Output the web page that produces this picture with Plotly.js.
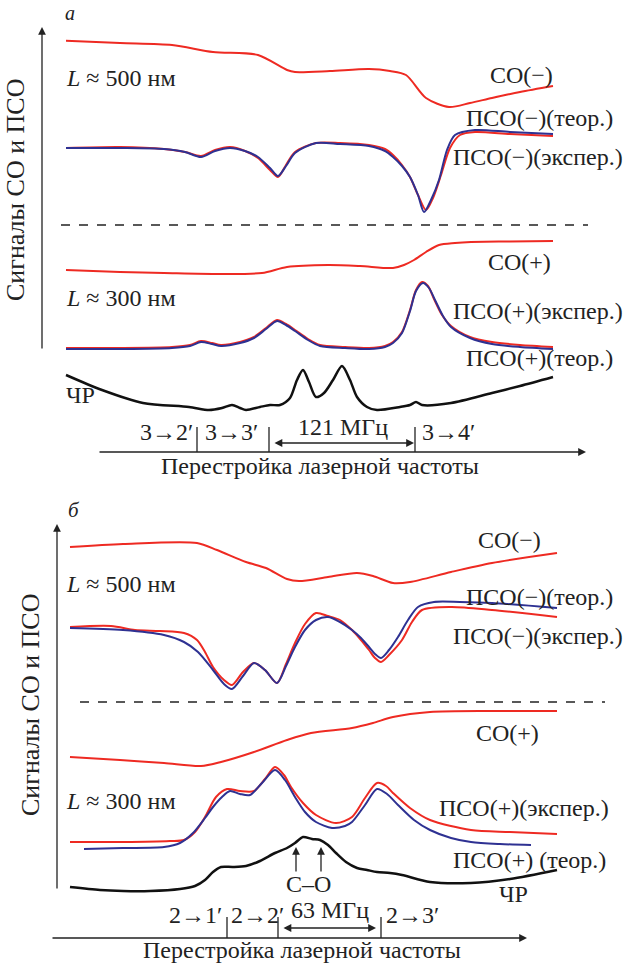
<!DOCTYPE html>
<html><head><meta charset="utf-8">
<script src="https://cdn.plot.ly/plotly-3.0.1.min.js"></script>
<style>body{margin:0;background:#fff}#p{width:640px;height:965px}</style>
</head><body><div id="p"></div>
<script>
// Panel a (x = laser detuning, y = signal, arbitrary units, downward-positive)
const a_co_minus_x = [66,120,172,213,258,287,295,330,369,390,406,426,449,470,492,520,553];
const a_co_minus_y = [40.7,43,45,52,55,70,72,71,69,71,75,98,107,103,98,92,86];
const a_pso_minus_teor_x = [66,120,164,185,201,215,230,245,258,270,278,286,295,316,340,369,385,393,402,410,418,424,431,439,447,455,475,510,553];
const a_pso_minus_teor_y = [148,148,149,152,157,151,148,151,157,168,176,166,153,143,144,146,151,157,166,177,195,212,200,180,150,135,130,132,134];
const a_pso_minus_exp_x = [66,120,164,185,201,215,230,245,258,270,278,286,295,316,340,369,385,393,402,410,418,426,433,441,450,460,475,510,553];
const a_pso_minus_exp_y = [148,147,149,152,156,150,147,151,158,170,177,165,152,143,143,145,149,155,165,177,195,210,198,175,148,135,132,134,136];
const a_co_plus_x = [66,120,164,220,262,287,328,360,393,404,414,426,439,455,471,510,553];
const a_co_plus_y = [270,272,273,274,273,267,265,266,268,265,260,252,245,243,242,241.5,241];
const a_pso_plus_exp_x = [66,120,172,190,201,212,221,240,254,266,277,286,295,308,320,345,369,385,393,402,410,416,422,428,434,442,451,470,492,520,553];
const a_pso_plus_exp_y = [348,348,347,345,341,343,345,342,337,328,320,324,330,339,345,347,348,346,342,332,310,290,282,286,299,315,326,337,342,345,347];
const a_pso_plus_teor_x = [66,120,172,190,201,212,221,240,254,266,277,286,295,308,320,345,369,385,393,402,410,416,423,429,435,443,451,470,492,520,553];
const a_pso_plus_teor_y = [349,349,348,346,342,344,346,343,338,329,321,325,331,340,346,348,349,347,343,333,311,291,283,288,300,316,327,338,344,347,349];
const a_chr_x = [66,102,143,189,209,222,232,240,246,260,270,280,290,297,303,309,316,324,333,342,350,357,367,377,400,410,416,422,451,492,520,553];
const a_chr_y = [375,390,403,407,410,408,405,408,410,407,405,405,398,380,370,382,397,393,380,366,380,397,407,410,407,405,402,405,403,393,386,377];
// Panel б
const b_co_minus_x = [70,123,197,217,246,266,287,299,328,357,373,393,410,451,492,557];
const b_co_minus_y = [547,544,543,550,562,568,579,581,577,573,576,583,582,572,563,553];
const b_pso_minus_teor_x = [70,123,164,184,198,213,224,232,243,254,265,277,286,295,305,316,328,340,352,361,369,375,381,389,398,408,418,434,460,492,557];
const b_pso_minus_teor_y = [628,630,635,642,652,670,684,689,676,663,670,683,666,647,630,620,617,622,630,638,647,654,658,650,637,620,607,602,602,603,608];
const b_pso_minus_exp_x = [70,111,135,160,184,197,205,213,224,232,243,254,265,277,286,295,305,316,328,340,352,361,369,375,381,389,402,412,422,451,492,557];
const b_pso_minus_exp_y = [627,626,630,631,633,640,652,667,680,685,672,663,670,683,664,643,624,613,616,620,630,640,650,658,662,655,640,622,610,607,610,617];
const b_co_plus_x = [70,120,164,201,221,254,287,311,352,373,393,430,492,557];
const b_co_plus_y = [757,760,763,766,762,752,740,733,728,723,717,712,711,711];
const b_pso_plus_exp_x = [70,123,170,184,195,205,216,227,240,254,265,275,284,291,303,316,336,352,365,377,386,393,410,430,471,510,557];
const b_pso_plus_exp_y = [842,842,841,840,832,817,797,789,791,791,779,767,775,787,803,815,823,817,798,783,786,793,808,820,830,832,834];
const b_pso_plus_teor_x = [84,123,164,180,193,205,213,222,230,240,250,262,275,285,295,305,316,332,345,352,365,377,387,398,414,430,451,471,500,531];
const b_pso_plus_teor_y = [849,848,847,843,833,818,807,797,791,794,795,783,770,780,797,812,822,828,826,822,805,789,794,805,820,830,838,842,844,845];
const b_chr_x = [70,100,123,150,180,195,205,213,221,233,246,260,275,287,295,303,312,320,328,336,346,357,367,377,390,402,430,471,510,557];
const b_chr_y = [887,890,891,891,889,886,880,872,867,867,866,861,853,848,843,837,839,840,845,853,862,868,870,872,873,875,882,883,879,870];

const RED = '#ee2a22', BLUE = '#2e3192', BLACK = '#111111';
function tr(x, y, c, w) { return {x: x, y: y, mode: 'lines', line: {color: c, width: w, shape: 'spline', smoothing: 0.8}, hoverinfo: 'skip', showlegend: false}; }
const data = [
  tr(a_co_minus_x, a_co_minus_y, RED, 2),
  tr(a_pso_minus_exp_x, a_pso_minus_exp_y, RED, 2),
  tr(a_pso_minus_teor_x, a_pso_minus_teor_y, BLUE, 2),
  tr(a_co_plus_x, a_co_plus_y, RED, 2),
  tr(a_pso_plus_exp_x, a_pso_plus_exp_y, RED, 2),
  tr(a_pso_plus_teor_x, a_pso_plus_teor_y, BLUE, 2),
  tr(a_chr_x, a_chr_y, BLACK, 2.5),
  tr(b_co_minus_x, b_co_minus_y, RED, 2),
  tr(b_pso_minus_exp_x, b_pso_minus_exp_y, RED, 2),
  tr(b_pso_minus_teor_x, b_pso_minus_teor_y, BLUE, 2),
  tr(b_co_plus_x, b_co_plus_y, RED, 2),
  tr(b_pso_plus_exp_x, b_pso_plus_exp_y, RED, 2),
  tr(b_pso_plus_teor_x, b_pso_plus_teor_y, BLUE, 2),
  tr(b_chr_x, b_chr_y, BLACK, 2.5)
];
const F = 'Liberation Serif, DejaVu Serif, serif';
const FS = 24;
function txt(x, y, s, opt) { return Object.assign({x: x, y: y, text: s, showarrow: false, xanchor: 'left', yanchor: 'middle', font: {family: F, size: FS, color: '#222'}}, opt || {}); }
function arr(x, y, ax, ay, side) { return {x: x, y: y, ax: ax, ay: ay, axref: 'x', ayref: 'y', xref: 'x', yref: 'y', text: '', showarrow: true, arrowhead: 2, arrowsize: 1.2, arrowwidth: 1.3, arrowcolor: '#222', arrowside: side || 'end', startarrowhead: 2, startarrowsize: 1.2}; }
const big = {family: F, size: 24, color: '#222'};
const ann = [
  txt(64, 1, '<i>a</i>', {yanchor: 'top', borderpad: 0, font: {family: F, size: 20, color: '#222'}}),
  txt(15, 190, 'Сигналы СО и ПСО', {xanchor: 'center', textangle: -90, font: {family: F, size: 26, color: '#222'}}),
  txt(64, 78, '<i>L</i> ≈ 500 нм'),
  txt(488, 75, 'СО(−)'),
  txt(464, 118, 'ПСО(−)(теор.)'),
  txt(451, 157, 'ПСО(−)(экспер.)'),
  txt(486, 262, 'СО(+)'),
  txt(64, 298, '<i>L</i> ≈ 300 нм'),
  txt(451, 311, 'ПСО(+)(экспер.)'),
  txt(464, 358, 'ПСО(+)(теор.)'),
  txt(64, 395, 'ЧР'),
  txt(195, 432, '3→2′', {xanchor: 'right'}),
  txt(203, 432, '3→3′'),
  txt(343, 427, '121 МГц', {xanchor: 'center'}),
  txt(420, 432, '3→4′'),
  txt(320, 466, 'Перестройка лазерной частоты', {xanchor: 'center', font: big}),
  arr(42, 27, 42, 350),
  arr(586, 452, 98, 452),
  arr(414, 443, 273, 443, 'end+start'),
  // panel б
  txt(66, 510, '<i>б</i>', {font: {family: F, size: 21, color: '#222'}}),
  txt(30, 705, 'Сигналы СО и ПСО', {xanchor: 'center', textangle: -90, font: {family: F, size: 26, color: '#222'}}),
  txt(476, 540, 'СО(−)'),
  txt(64, 584, '<i>L</i> ≈ 500 нм'),
  txt(464, 597, 'ПСО(−)(теор.)'),
  txt(451, 636, 'ПСО(−)(экспер.)'),
  txt(474, 733, 'СО(+)'),
  txt(64, 801, '<i>L</i> ≈ 300 нм'),
  txt(437, 808, 'ПСО(+)(экспер.)'),
  txt(451, 860, 'ПСО(+) (теор.)'),
  txt(497, 894, 'ЧР'),
  txt(308, 884, 'C–O', {xanchor: 'center'}),
  arr(296, 847, 296, 873),
  arr(321, 847, 321, 873),
  txt(224, 915, '2→1′', {xanchor: 'right'}),
  txt(229, 915, '2→2′'),
  txt(330, 910, '63 МГц', {xanchor: 'center'}),
  txt(384, 915, '2→3′'),
  txt(302, 964, 'Перестройка лазерной частоты', {xanchor: 'center', yanchor: 'bottom', borderpad: 0, font: big}),
  arr(57, 524, 57, 890),
  arr(527, 938, 51, 938),
  arr(376, 928, 282, 928, 'end+start')
];
function ln(x0, y0, x1, y1, dash) { return {type: 'line', xref: 'x', yref: 'y', x0: x0, y0: y0, x1: x1, y1: y1, line: {color: '#222', width: 1.3, dash: dash || 'solid'}}; }
const shapes = [
  ln(61, 225, 588, 225, 'dash'),
  ln(197, 427, 197, 452), ln(269, 427, 269, 452), ln(415, 427, 415, 452),
  ln(80, 702, 605, 702, 'dash'),
  ln(227, 917, 227, 938), ln(278, 917, 278, 938), ln(381, 917, 381, 938)
];
Plotly.newPlot('p', data, {
  width: 640, height: 965, margin: {l: 0, r: 0, t: 0, b: 0},
  paper_bgcolor: '#fff', plot_bgcolor: '#fff',
  xaxis: {range: [0, 640], visible: false, fixedrange: true},
  yaxis: {range: [965, 0], visible: false, fixedrange: true},
  annotations: ann, shapes: shapes
}, {staticPlot: true});
</script></body></html>
